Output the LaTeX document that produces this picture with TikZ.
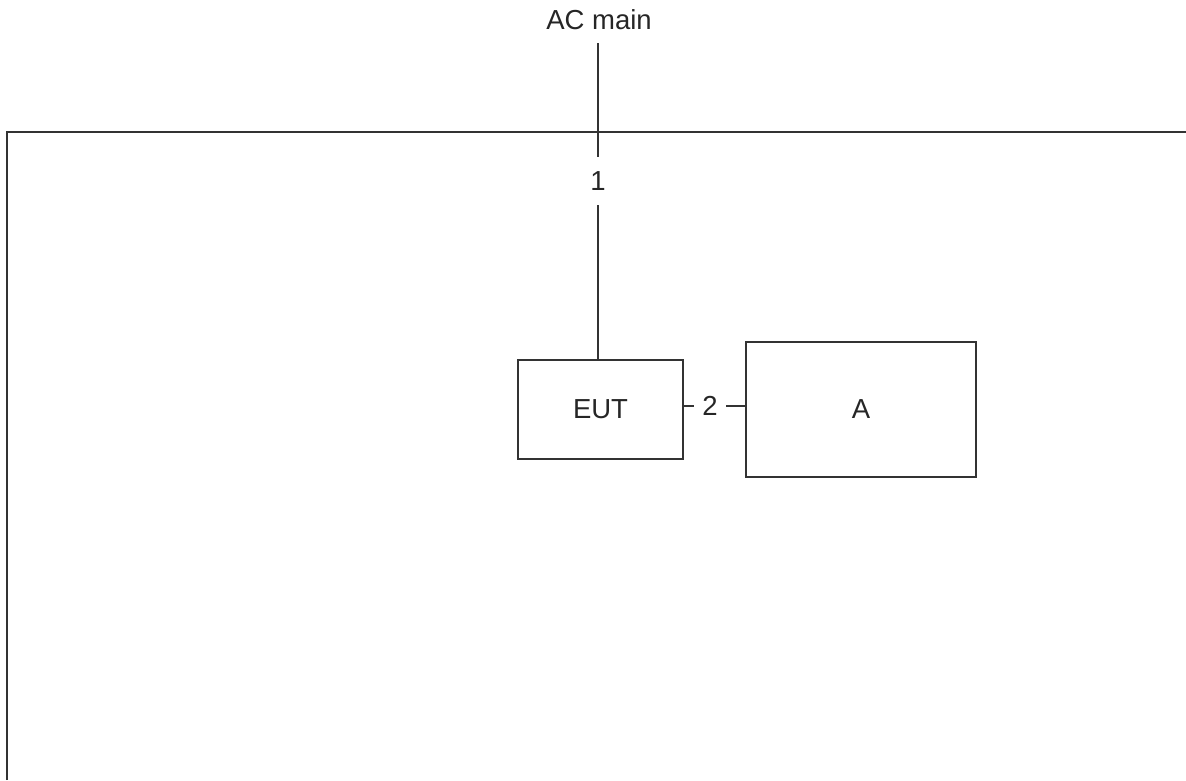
\documentclass[tikz,border=0pt]{standalone}
\usepackage{fontspec}
\setmainfont{Liberation Sans}
\begin{document}
\begin{tikzpicture}[x=1pt,y=-1pt,
  line width=1.3pt, draw=black!80,
  txt/.style={font=\fontsize{27.5}{32}\selectfont, text=black!85},
  boxnode/.style={draw=black!80, line width=1.3pt, inner sep=0pt, txt},
  lbl/.style={txt, fill=white, inner sep=3pt}]
\useasboundingbox (0,0) rectangle (1186,780);
\node[txt] (acmain) at (599,20) {AC main};
\coordinate (feed) at (598,43);
\node[boxnode, minimum width=165pt, minimum height=99pt] (eut) at (600.5,409.5) {EUT};
\node[boxnode, minimum width=230pt, minimum height=135pt] (a) at (861,409.5) {A};
\coordinate (frameBL) at (7,780);
\coordinate (frameTL) at (7,132);
\coordinate (frameTR) at (1186,132);
\draw[draw=black!80] (frameBL) -- (frameTL) -- (frameTR);
\draw[draw=black!80] (feed) -- (feed |- eut.north);
\node[lbl, inner sep=4pt, minimum height=48pt] (n1) at (598,181) {1};
\draw[draw=black!80] ([yshift=3.5pt]eut.east) -- ([yshift=3.5pt]a.west);
\node[lbl, inner sep=0pt, minimum width=32pt, minimum height=30pt] (n2) at (710,406) {2};
\end{tikzpicture}
\end{document}
